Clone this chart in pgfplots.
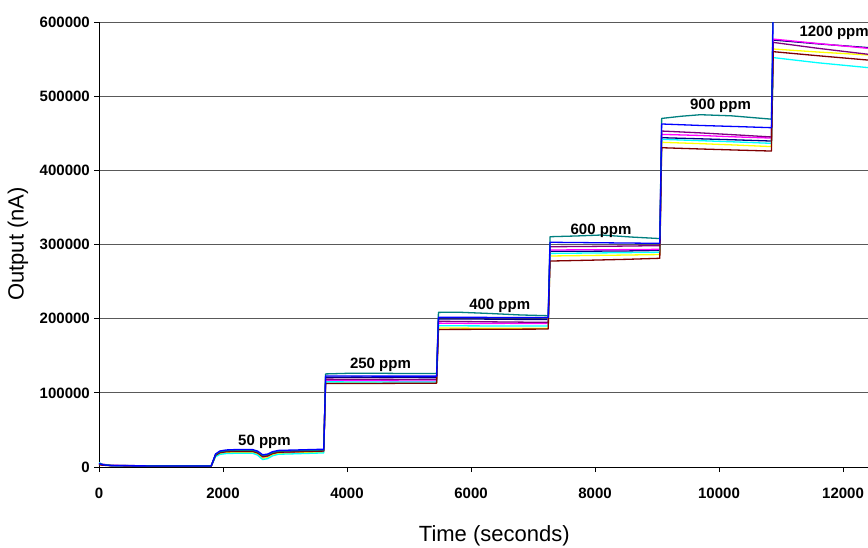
\documentclass[border=0pt]{standalone}
\usepackage{fontspec}
\setmainfont{Liberation Sans}
\usepackage{pgfplots}
\pgfplotsset{compat=1.18}
\definecolor{xnavy}{HTML}{000080}
\definecolor{xmagenta}{HTML}{FF00FF}
\definecolor{xyellow}{HTML}{FFFF00}
\definecolor{xcyan}{HTML}{00FFFF}
\definecolor{xpurple}{HTML}{800080}
\definecolor{xdarkred}{HTML}{800000}
\definecolor{xteal}{HTML}{008080}
\definecolor{xblue}{HTML}{0000FF}
\begin{document}
\begin{tikzpicture}
\begin{axis}[
  scale only axis, width=769pt, height=445pt,
  xmin=0, xmax=12403, ymin=0, ymax=600000,
  axis x line*=bottom, axis y line*=left,
  axis line style={black, line width=0.8pt},
  xtick={0,2000,...,12000}, ytick={0,100000,...,600000},
  scaled ticks=false,
  /pgf/number format/fixed,
  /pgf/number format/precision=0,
  /pgf/number format/1000 sep={},
  /pgf/number format/assume math mode=true,
  tick align=outside, major tick length=5pt,
  tick style={black, line width=0.8pt},
  ymajorgrids, grid style={black!65, line width=0.7pt},
  ticklabel style={font=\fontsize{15}{18}\selectfont\bfseries, inner sep=0pt},
  xticklabel style={anchor=north, yshift=-16pt},
  yticklabel style={anchor=east, xshift=-4pt},
  xlabel={Time (seconds)}, ylabel={Output (nA)},
  label style={font=\fontsize{22}{26}\selectfont},
  xlabel style={at={(axis description cs:0.514,-0.155)}, anchor=center},
  ylabel style={at={(axis description cs:-0.1053,0.501)}, anchor=center},
  every axis plot/.append style={line width=1.3pt, line join=round, mark=none},
]
% navy
\addplot[xnavy] coordinates {(0,4500)(60,3200)(200,2100)(600,1700)(1810,1600)
(1840,7700)(1880,16500)(1950,20200)(2050,21600)(2200,22000)(2480,22000)(2560,20000)(2640,15200)(2720,16000)(2800,19200)(2900,21000)(3100,21300)(3625,22500)
(3655,121000)(4200,121200)(4800,120600)(5445,120500)
(5475,199500)(6000,199600)(6600,199100)(7245,199000)
(7275,290800)(7900,291000)(8500,291300)(9045,292000)
(9075,444000)(9700,442500)(10300,441000)(10845,439500)
(10875,575700)(11600,570500)(12403,565500)};
% magenta
\addplot[xmagenta] coordinates {(0,5500)(60,3800)(200,2300)(600,1800)(1810,1700)
(1840,7200)(1880,15400)(1950,18900)(2050,20100)(2200,20500)(2480,20500)(2560,18250)(2640,13000)(2720,14100)(2800,17500)(2900,19400)(3100,19750)(3625,21000)
(3655,116500)(4200,116400)(4800,116100)(5445,116000)
(5475,194000)(6000,193600)(6600,193700)(7245,193500)
(7275,292600)(7900,292900)(8500,293100)(9045,293500)
(9075,448500)(9700,447000)(10300,445000)(10845,443500)
(10875,577000)(11600,571000)(12403,564500)};
% yellow
\addplot[xyellow] coordinates {(0,3500)(60,2600)(200,1800)(600,1500)(1810,1400)
(1840,6800)(1880,14600)(1950,17900)(2050,19100)(2200,19500)(2480,19500)(2560,17100)(2640,11500)(2720,12700)(2800,16300)(2900,18300)(3100,18700)(3625,20000)
(3655,113000)(4200,113200)(4800,112900)(5445,113000)
(5475,187500)(6000,187200)(6600,187100)(7245,187000)
(7275,284500)(7900,285200)(8500,285800)(9045,286500)
(9075,437800)(9700,436000)(10300,434000)(10845,432000)
(10875,563600)(11600,559500)(12403,555500)};
% cyan
\addplot[xcyan] coordinates {(0,6000)(60,3000)(200,1600)(600,1300)(1810,1200)
(1840,6500)(1880,13900)(1950,17000)(2050,18100)(2200,18500)(2480,18500)(2560,15950)(2640,10000)(2720,11300)(2800,15100)(2900,17200)(3100,17650)(3625,19000)
(3655,114800)(4200,114700)(4800,114500)(5445,114500)
(5475,190500)(6000,190300)(6600,190100)(7245,190000)
(7275,288000)(7900,288500)(8500,289000)(9045,289500)
(9075,441800)(9700,440000)(10300,438200)(10845,436400)
(10875,552000)(11600,545000)(12403,538500)};
% purple
\addplot[xpurple] coordinates {(0,4000)(60,3000)(200,2000)(600,1700)(1810,1600)
(1840,7500)(1880,16100)(1950,19800)(2050,21100)(2200,21500)(2480,21500)(2560,19400)(2640,14500)(2720,15500)(2800,18700)(2900,20450)(3100,20800)(3625,22000)
(3655,118500)(4200,118300)(4800,118100)(5445,118000)
(5475,196500)(6000,196000)(6600,195500)(7245,195000)
(7275,297000)(7900,297400)(8500,297900)(9045,298500)
(9075,453000)(9700,450500)(10300,447700)(10845,445000)
(10875,572500)(11600,564500)(12403,556500)};
% dark red
\addplot[xdarkred] coordinates {(0,3000)(60,2400)(200,1700)(600,1400)(1810,1300)
(1840,7350)(1880,15750)(1950,19300)(2050,20600)(2200,21000)(2480,21000)(2560,18900)(2640,14000)(2720,15000)(2800,18200)(2900,19950)(3100,20300)(3625,21500)
(3655,112500)(4200,112600)(4800,112800)(5445,113000)
(5475,185500)(6000,185600)(6600,185800)(7245,186000)
(7275,277700)(7900,278800)(8500,280000)(9045,281400)
(9075,430500)(9700,428800)(10300,427300)(10845,426000)
(10875,560000)(11600,554500)(12403,548700)};
% teal
\addplot[xteal] coordinates {(0,5000)(60,3500)(200,2200)(600,1800)(1810,1700)
(1840,7900)(1880,16900)(1950,20700)(2050,22000)(2200,22500)(2480,22500)(2560,20400)(2640,15500)(2720,16500)(2800,19700)(2900,21450)(3100,21800)(3625,23000)
(3655,125500)(4000,126300)(4500,126400)(5000,126000)(5445,126000)
(5475,208500)(5800,208700)(6300,207000)(6800,205000)(7245,204000)
(7275,310500)(7700,311500)(8100,312800)(8600,310000)(9045,308000)
(9075,470000)(9400,473000)(9700,475000)(10200,473500)(10845,469000)
(10875,640000)(12403,625000)};
% blue
\addplot[xblue] coordinates {(0,4500)(60,3000)(200,1800)(600,1500)(1810,1400)
(1840,8200)(1880,17600)(1950,21600)(2050,23000)(2200,23500)(2480,23500)(2560,21400)(2640,16500)(2720,17500)(2800,20700)(2900,22450)(3100,22800)(3625,24000)
(3655,122700)(4200,122600)(4800,122500)(5445,122500)
(5475,202000)(6000,201800)(6600,201600)(7245,201500)
(7275,303000)(7900,302500)(8500,302000)(9045,301600)
(9075,462500)(9700,460500)(10300,459000)(10845,457500)
(10875,620000)(12403,608000)};
\begin{scope}[every node/.style={font=\fontsize{15}{18}\selectfont\bfseries, inner sep=0pt}]
\node[anchor=base] at (axis cs:2669,29000) {50 ppm};
\node[anchor=base] at (axis cs:4540,133000) {250 ppm};
\node[anchor=base] at (axis cs:6463,212600) {400 ppm};
\node[anchor=base] at (axis cs:8097,314000) {600 ppm};
\node[anchor=base] at (axis cs:10024,482300) {900 ppm};
\node[anchor=base west] at (axis cs:11295,580200) {1200 ppm};
\end{scope}
\end{axis}
\pgfresetboundingbox
\path[use as bounding box] (-99pt,-80pt) rectangle (769pt,467pt);
\end{tikzpicture}
\end{document}
